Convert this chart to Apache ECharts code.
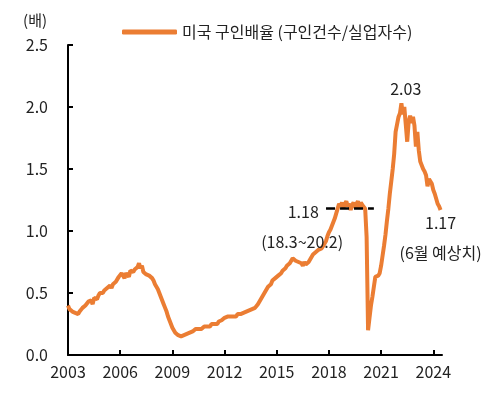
<!DOCTYPE html>
<html><head><meta charset="utf-8">
<script src="https://cdn.jsdelivr.net/npm/echarts@6/dist/echarts.min.js"></script>
<style>html,body{margin:0;padding:0;background:#fff}#c{width:495px;height:393px}</style>
</head><body><div id="c"></div>
<script>
// Monthly, Jan 2003 .. Jun 2024
const startYear = 2003;
const yearTicks = ['2003','2006','2009','2012','2015','2018','2021','2024'];
const yTicks = [0, 0.5, 1.0, 1.5, 2.0, 2.5];
const seriesName = '미국 구인배율 (구인건수/실업자수)';
const v2003 = [0.40,0.37,0.38,0.35,0.36,0.34,0.35,0.33,0.35,0.36,0.38,0.37];
const v2004 = [0.40,0.41,0.43,0.42,0.44,0.41,0.46,0.47,0.45,0.48,0.50,0.49];
const v2005 = [0.50,0.52,0.51,0.54,0.53,0.56,0.54,0.57,0.56,0.59,0.60,0.63];
const v2006 = [0.62,0.66,0.64,0.62,0.66,0.65,0.63,0.68,0.69,0.67,0.69,0.70];
const v2007 = [0.71,0.74,0.70,0.72,0.67,0.66,0.65,0.66,0.64,0.64,0.62,0.60];
const v2008 = [0.57,0.55,0.53,0.50,0.47,0.44,0.41,0.38,0.35,0.31,0.28,0.25];
const v2009 = [0.22,0.20,0.18,0.17,0.16,0.16,0.15,0.16,0.16,0.17,0.17,0.18];
const v2010 = [0.18,0.19,0.19,0.20,0.21,0.20,0.21,0.22,0.21,0.22,0.23,0.22];
const v2011 = [0.23,0.24,0.23,0.25,0.24,0.25,0.26,0.25,0.27,0.26,0.28,0.28];
const v2012 = [0.30,0.29,0.31,0.30,0.31,0.32,0.31,0.32,0.31,0.33,0.32,0.33];
const v2013 = [0.33,0.34,0.34,0.35,0.34,0.36,0.35,0.37,0.36,0.38,0.39,0.41];
const v2014 = [0.43,0.45,0.47,0.49,0.51,0.52,0.55,0.54,0.57,0.60,0.59,0.62];
const v2015 = [0.62,0.64,0.63,0.66,0.68,0.67,0.70,0.72,0.71,0.74,0.76,0.78];
const v2016 = [0.79,0.76,0.77,0.75,0.76,0.74,0.72,0.75,0.73,0.74,0.75,0.77];
const v2017 = [0.78,0.81,0.82,0.83,0.84,0.85,0.84,0.86,0.88,0.89,0.92,0.96];
const v2018 = [0.99,1.01,1.04,1.07,1.10,1.14,1.18,1.22,1.20,1.23,1.19,1.22];
const v2019 = [1.24,1.20,1.22,1.17,1.21,1.23,1.19,1.22,1.24,1.18,1.23,1.21];
const v2020 = [1.22,1.18,0.95,0.20,0.30,0.40,0.47,0.55,0.63,0.63,0.64,0.66];
const v2021 = [0.72,0.80,0.88,0.97,1.08,1.18,1.30,1.40,1.50,1.62,1.80,1.80];
const v2022 = [1.92,1.95,2.03,1.94,2.00,1.86,1.72,1.88,1.93,1.87,1.92,1.85];
const v2023 = [1.68,1.80,1.65,1.56,1.53,1.50,1.48,1.45,1.36,1.42,1.41,1.38];
const v2024 = [1.33,1.30,1.26,1.22,1.20,1.17];

const values = [].concat(v2003,v2004,v2005,v2006,v2007,v2008,v2009,v2010,v2011,v2012,
  v2013,v2014,v2015,v2016,v2017,v2018,v2019,v2020,v2021,v2022,v2023,v2024);

// annotations (month index, value)
const refLevel = 1.18;
const refFrom = 178, refTo = 211;
const notes = [
  {text:'2.03', at:[233, 2.145], align:'center'},
  {text:'1.18', at:[173, 1.156], align:'right'},
  {text:'(18.3~20.2)', at:[161.5, 0.914], align:'center'},
  {text:'1.17', at:[257, 1.067], align:'center'},
  {text:'(6월 예상치)', at:[257, 0.825], align:'center'}
];

const font = '"Noto Sans CJK KR", "Noto Sans", sans-serif';
const tickIdx = yearTicks.map(y => (Number(y) - startYear) * 12);
const data = values.map((v, i) => [i, v]);

const chart = echarts.init(document.getElementById('c'), null, {renderer:'canvas'});
chart.setOption({
  animation:false,
  textStyle:{fontFamily:font},
  grid:{left:68, right:53, top:45, bottom:38},
  legend:{
    left:117, top:19, itemWidth:55, itemHeight:5, itemGap:7, icon:'roundRect',
    textStyle:{fontSize:16, color:'#222', fontFamily:font},
    data:[seriesName]
  },
  xAxis:{
    type:'value', min:0, max:258,
    axisLine:{lineStyle:{color:'#000', width:2}},
    axisTick:{inside:true, length:5, lineStyle:{color:'#000', width:2}, customValues:tickIdx},
    axisLabel:{customValues:tickIdx, fontSize:16, color:'#222', margin:9, fontFamily:font,
      formatter:v => String(startYear + Math.round(v/12))},
    splitLine:{show:false}
  },
  yAxis:{
    type:'value', min:0, max:2.5, interval:0.5,
    axisLine:{show:true, lineStyle:{color:'#000', width:2}},
    axisTick:{show:true, inside:true, length:5, lineStyle:{color:'#000', width:2}},
    axisLabel:{fontSize:16, color:'#222', margin:20, fontFamily:font, formatter:v => v.toFixed(1)},
    splitLine:{show:false},
    name:'(배)', nameLocation:'end', nameGap:17,
    nameTextStyle:{fontSize:15, color:'#222', align:'right', padding:[0,21,0,0], fontFamily:font}
  },
  series:[{
    name:seriesName, type:'line', data:data, showSymbol:false, clip:false,
    lineStyle:{color:'#EB7D33', width:4}, itemStyle:{color:'#EB7D33'},
    markLine:{
      silent:true, symbol:'none', animation:false,
      lineStyle:{color:'#000', type:[9,5], width:2.5},
      label:{show:false},
      data:[[{coord:[refFrom, refLevel]},{coord:[refTo, refLevel]}]]
    },
    markPoint:{
      silent:true, symbol:'circle', symbolSize:0, animation:false,
      data:notes.map(n => ({coord:n.at, label:{show:true, formatter:n.text, position:'inside',
        align:n.align, verticalAlign:'middle', fontSize:16, color:'#222', fontFamily:font}}))
    }
  }]
});
</script></body></html>
